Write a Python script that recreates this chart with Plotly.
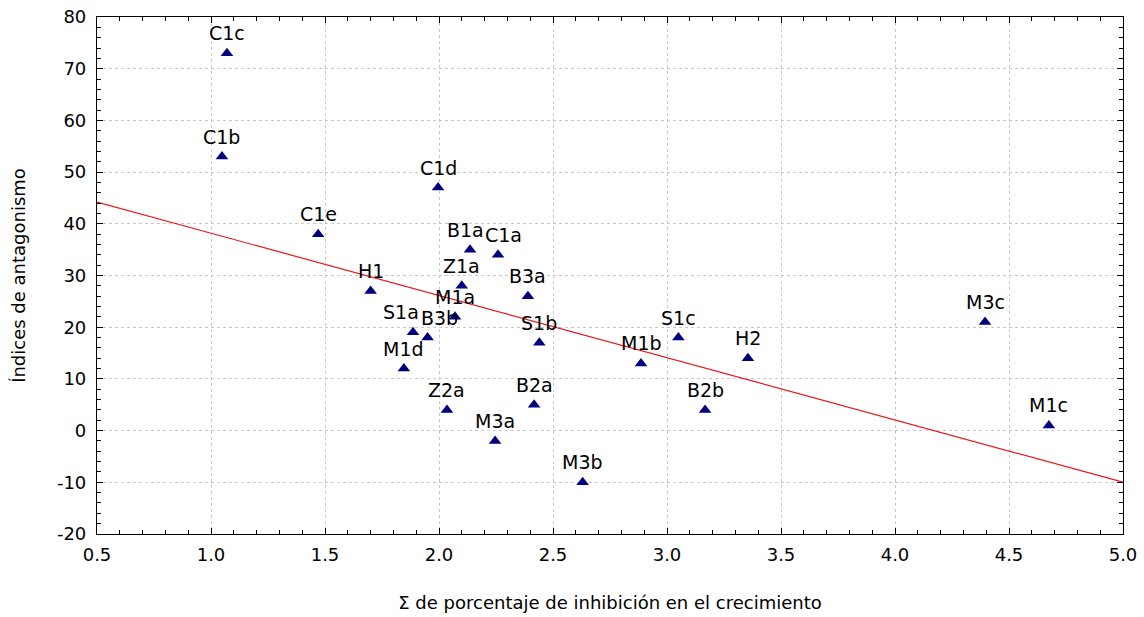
import plotly.graph_objects as go
import numpy as np

labels = ["C1c", "C1b", "C1d", "C1e", "B1a", "C1a", "Z1a", "B3a", "H1", "M1a",
          "S1a", "B3b", "S1b", "M1d", "M1b", "S1c", "H2", "B2b", "Z2a", "B2a",
          "M3a", "M3b", "M3c", "M1c"]
x_vals = [1.07, 1.048, 1.996, 1.47, 2.136, 2.259, 2.10, 2.39, 1.70, 2.07,
          1.886, 1.95, 2.44, 1.846, 2.886, 3.05, 3.355, 3.167, 2.035, 2.417,
          2.246, 2.63, 4.395, 4.675]
y_vals = [73, 53, 47, 38, 35, 34, 28, 26, 27, 22,
          19, 18, 17, 12, 13, 18, 14, 4, 4, 5,
          -2, -10, 21, 1]

x_ticks = [0.5, 1.0, 1.5, 2.0, 2.5, 3.0, 3.5, 4.0, 4.5, 5.0]
x_ticktext = ["0.5", "1.0", "1.5", "2.0", "2.5", "3.0", "3.5", "4.0", "4.5", "5.0"]
y_ticks = [-20, -10, 0, 10, 20, 30, 40, 50, 60, 70, 80]
y_ticktext = ["-20", "-10", "0", "10", "20", "30", "40", "50", "60", "70", "80"]

# regression line
reg_intercept = 50.22
reg_slope = -12.04
reg_x = [0.5, 5.0]

FONT = "DejaVu Sans"

# small horizontal nudges (px) so crowded labels stay legible
nudge = {"B1a": -5, "C1a": 5, "S1a": -12, "B3b": 12}

fig = go.Figure()
lx = np.linspace(reg_x[0], reg_x[1], 50)
fig.add_trace(go.Scatter(x=lx, y=reg_intercept + reg_slope * lx, mode="lines",
                         line=dict(color="#e8161c", width=1.2), hoverinfo="skip",
                         showlegend=False))
fig.add_trace(go.Scatter(x=x_vals, y=y_vals, mode="markers",
                         marker=dict(symbol="triangle-up", size=11, color="#00007f",
                                     line=dict(width=0)),
                         showlegend=False, cliponaxis=False))

for lab, xv, yv in zip(labels, x_vals, y_vals):
    fig.add_annotation(x=xv, y=yv, text=lab, showarrow=False, xanchor="center",
                       yanchor="bottom", yshift=8, xshift=nudge.get(lab, 0),
                       font=dict(family=FONT, size=19, color="black"), borderpad=0)

axis_common = dict(showline=True, linecolor="black", linewidth=1.2, mirror="allticks",
                   ticks="inside", ticklen=6, tickcolor="black", zeroline=False,
                   showgrid=True, gridcolor="#c8c8c8", griddash="dot", gridwidth=1,
                   automargin=False,
                   tickfont=dict(family=FONT, size=18, color="black"))

fig.update_xaxes(range=[0.5, 5.0], tickmode="array", tickvals=x_ticks, ticktext=x_ticktext,
                 title=dict(text="Σ de porcentaje de inhibición en el crecimiento",
                            font=dict(family=FONT, size=18, color="black"), standoff=32),
                 minor=dict(dtick=0.1, tick0=0.5, ticks="inside", ticklen=4, tickcolor="black", showgrid=False),
                 ticklabelstandoff=4,
                 **axis_common)
fig.update_yaxes(range=[-20, 80], tickmode="array", tickvals=y_ticks, ticktext=y_ticktext,
                 title=dict(text="Índices de antagonismo",
                            font=dict(family=FONT, size=18, color="black"), standoff=26),
                 minor=dict(dtick=2, tick0=0, ticks="inside", ticklen=4, tickcolor="black", showgrid=False),
                 ticklabelstandoff=6,
                 **axis_common)

fig.update_layout(width=1144, height=617, margin=dict(l=97, r=21, t=17, b=83),
                  plot_bgcolor="white", paper_bgcolor="white",
                  font=dict(family=FONT, size=18, color="black"))

fig.write_html("out.html")
